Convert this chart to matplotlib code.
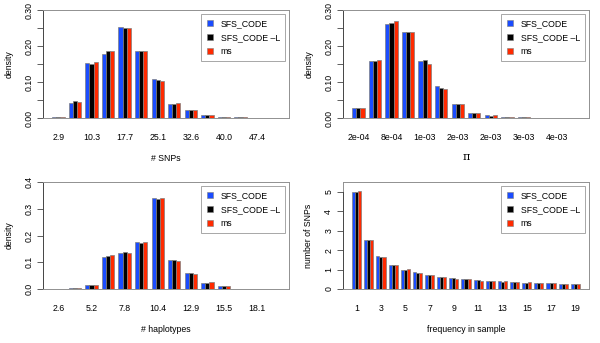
import matplotlib
matplotlib.use('Agg')

import matplotlib.pyplot as plt
from matplotlib.lines import Line2D
import numpy as np

plt.rcParams['font.family'] = ['Liberation Sans', 'DejaVu Sans']

series = ['SFS_CODE', 'SFS_CODE \u2013L', 'ms']
colors = ['#1a4cff', '#000000', '#ff2a00']

# number of segregating sites
snp_labels = ['2.9', '10.3', '17.7', '25.1', '32.6', '40.0', '47.4']
snp_sfs = [0.004, 0.042, 0.152, 0.178, 0.252, 0.187, 0.108, 0.039, 0.022, 0.008, 0.002, 0.002, 0.001, 0.001]
snp_sfsl = [0.002, 0.047, 0.151, 0.187, 0.249, 0.185, 0.105, 0.038, 0.021, 0.007, 0.002, 0.002, 0.001, 0.001]
snp_ms = [0.004, 0.045, 0.155, 0.185, 0.249, 0.185, 0.102, 0.041, 0.022, 0.008, 0.002, 0.002, 0.001, 0.001]

# nucleotide diversity
pi_labels = ['2e-04', '8e-04', '1e-03', '2e-03', '2e-03', '3e-03', '4e-03']
pi_sfs = [0.027, 0.158, 0.261, 0.239, 0.159, 0.089, 0.038, 0.015, 0.007, 0.003, 0.002, 0.001, 0.001, 0.001]
pi_sfsl = [0.028, 0.159, 0.263, 0.239, 0.160, 0.083, 0.038, 0.013, 0.006, 0.003, 0.002, 0.001, 0.001, 0.001]
pi_ms = [0.028, 0.160, 0.269, 0.240, 0.151, 0.081, 0.040, 0.015, 0.007, 0.002, 0.002, 0.001, 0.001, 0.001]

# number of haplotypes
hap_labels = ['2.6', '5.2', '7.8', '10.4', '12.9', '15.5', '18.1']
hap_sfs = [0.001, 0.003, 0.015, 0.120, 0.133, 0.175, 0.340, 0.110, 0.060, 0.022, 0.011, 0.001, 0.001, 0.001]
hap_sfsl = [0.001, 0.003, 0.014, 0.125, 0.140, 0.172, 0.335, 0.107, 0.058, 0.022, 0.010, 0.001, 0.001, 0.001]
hap_ms = [0.001, 0.003, 0.015, 0.126, 0.133, 0.174, 0.339, 0.106, 0.055, 0.025, 0.011, 0.001, 0.001, 0.001]

# site frequency spectrum
freq_labels = ['1', '3', '5', '7', '9', '11', '13', '15', '17', '19']
freq_sfs = [5.00, 2.52, 1.70, 1.25, 0.98, 0.85, 0.72, 0.63, 0.57, 0.51, 0.46, 0.42, 0.40, 0.36, 0.33, 0.31, 0.30, 0.27, 0.26]
freq_sfsl = [4.97, 2.52, 1.65, 1.25, 0.98, 0.84, 0.71, 0.62, 0.55, 0.50, 0.45, 0.42, 0.38, 0.36, 0.32, 0.31, 0.29, 0.27, 0.26]
freq_ms = [5.02, 2.50, 1.65, 1.25, 1.03, 0.83, 0.70, 0.62, 0.53, 0.50, 0.43, 0.42, 0.39, 0.36, 0.34, 0.31, 0.29, 0.26, 0.26]

panels = [
	(snp_sfs, snp_sfsl, snp_ms, snp_labels, '# SNPs', 'density', 0.30, np.arange(0, 0.301, 0.05), ['0.00', '', '0.10', '', '0.20', '', '0.30']),
	(pi_sfs, pi_sfsl, pi_ms, pi_labels, '\u03c0', 'density', 0.30, np.arange(0, 0.301, 0.05), ['0.00', '', '0.10', '', '0.20', '', '0.30']),
	(hap_sfs, hap_sfsl, hap_ms, hap_labels, '# haplotypes', 'density', 0.40, np.arange(0, 0.401, 0.1), ['0.0', '0.1', '0.2', '0.3', '0.4']),
	(freq_sfs, freq_sfsl, freq_ms, freq_labels, 'frequency in sample', 'number of SNPs', 5.5, np.arange(0, 6), ['0', '1', '2', '3', '4', '5']),
]

rects = [
	[43/600, 1 - 118/343, 246/600, 108/343],
	[343/600, 1 - 118/343, 246/600, 108/343],
	[43/600, 1 - 289/343, 246/600, 107/343],
	[343/600, 1 - 289/343, 246/600, 107/343],
]

fig = plt.figure(figsize=(6, 3.43), dpi=100)

for (a, b, c, labels, xlab, ylab, ymax, yticks, ylabels), rect in zip(panels, rects):
	ax = fig.add_axes(rect)
	n = len(a)
	start = 4 * np.arange(n) + 1
	for j, (vals, col) in enumerate(zip([a, b, c], colors)):
		ax.bar(start + j + 0.5, vals, width=1, color=col, edgecolor='#808080', linewidth=0.5)
	span = 4 * n - 1
	ax.set_xlim(1 - 0.04 * span, 4 * n + 0.04 * span)
	ax.set_ylim(0, ymax)
	ax.set_xticks(start[::2] + 1.5)
	ax.set_xticklabels(labels, fontsize=6.3)
	ax.tick_params(axis='x', length=0, pad=10.5)
	ax.set_yticks(yticks)
	ax.set_yticklabels(ylabels, fontsize=6.3, rotation=90, va='center')
	ax.tick_params(axis='y', length=4, width=0.6, pad=3, color='#444444')
	for s in ax.spines.values():
		s.set_color('#909090')
		s.set_linewidth(0.7)
	ax.spines['left'].set_bounds(yticks[0], yticks[-1])
	ax.spines['left'].set_color('#444444')
	ax.plot([0, 0], [yticks[-1], ymax], transform=ax.get_yaxis_transform(), color='#909090', lw=0.7, clip_on=False)
	if xlab == '\u03c0':
		ax.set_xlabel(xlab, fontsize=8, family=['DejaVu Serif'], labelpad=7.5)
	else:
		ax.set_xlabel(xlab, fontsize=6.3, labelpad=8.6)
	ax.set_ylabel(ylab, fontsize=6.3, labelpad=8)
	handles = [Line2D([], [], marker='s', ls='', color=col, markeredgecolor='#808080', markeredgewidth=0.4, markersize=4.5) for col in colors]
	leg = ax.legend(handles, series, loc='upper right', bbox_to_anchor=(0.984, 0.963), fontsize=6.3,
		frameon=True, fancybox=False, edgecolor='#909090', borderpad=0.6, labelspacing=0.55,
		handlelength=0.8, handletextpad=0.8, borderaxespad=0)
	leg.get_frame().set_linewidth(0.7)

fig.savefig('out.png', dpi=100)
